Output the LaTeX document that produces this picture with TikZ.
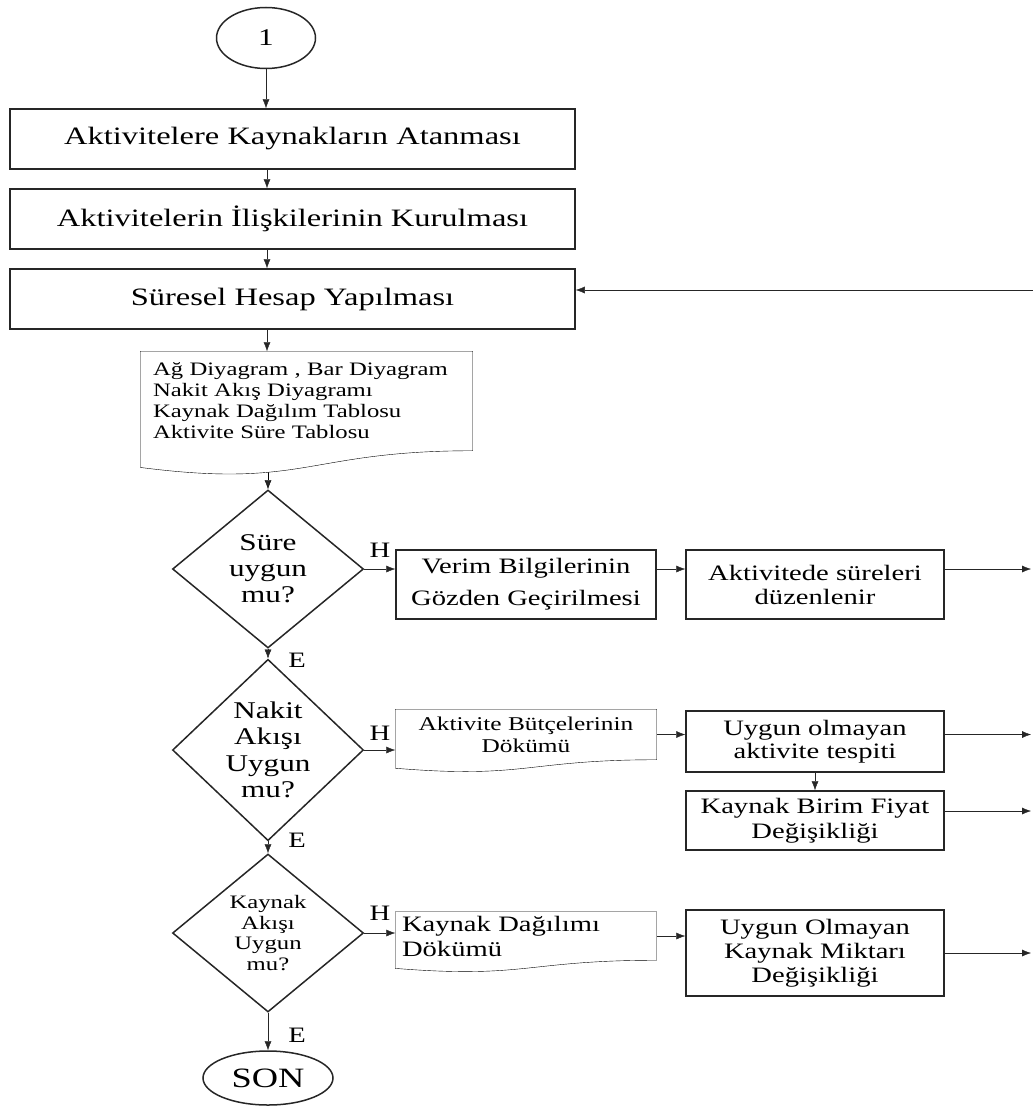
\documentclass[tikz,border=0pt]{standalone}
\usepackage{fontspec}
\setmainfont{Liberation Serif}[FakeStretch=1.3]
\usetikzlibrary{shapes.geometric,arrows.meta,calc}

\pgfdeclarelayer{background}
\pgfsetlayers{background,main}

\newcommand{\fsz}[2]{\fontsize{#1}{#2}\selectfont}

% document symbol: rectangle with a wavy lower edge below the node box
\newcommand{\docoutline}[1]{%
  \draw[fill=white] (#1.north west) -- (#1.north east) -- (#1.south east)
    .. controls (#1.south) and ($(#1.south)!-0.384!(#1.north)$)
    .. ($(#1.south west)!-0.1675!(#1.north west)$) -- cycle;}

\tikzset{
  flow/.style={-{Latex[length=9pt,width=7pt]}},
  procbox/.style={draw, rectangle, inner sep=0pt, align=center},
  docnode/.style={rectangle, inner sep=0pt},
  decision/.style={draw, diamond, inner sep=0pt, align=center,
    minimum width=191pt, minimum height=158pt},
  terminal/.style={draw, ellipse, inner sep=0pt},
  lbl/.style={inner sep=0pt, font=\fsz{22}{24}},
}

\begin{document}
\begin{tikzpicture}[x=1pt, y=-1pt, line width=1.5pt, draw=black!85]
\useasboundingbox (0,0) rectangle (1033,1108);

\coordinate (axis) at (267,0);
\coordinate (rail) at (1031,0);
\coordinate (ret) at (1033,290);

% main column
\node[terminal, minimum width=99pt, minimum height=61pt, font=\fsz{24}{26}]
  (c1) at (266,38) {1};
\node[procbox, minimum width=565pt, minimum height=60pt, font=\fsz{25}{28}]
  (b1) at (292.5,139) {Aktivitelere Kaynakların Atanması};
\node[procbox, minimum width=565pt, minimum height=60pt, font=\fsz{25}{28}]
  (b2) at (292.5,219) {Aktivitelerin İlişkilerinin Kurulması};
\node[procbox, minimum width=565pt, minimum height=60pt, font=\fsz{25}{28}]
  (b3) at (292.5,299) {Süresel Hesap Yapılması};

\node[docnode, minimum width=331pt, minimum height=98pt, text width=307pt,
  inner xsep=12pt, align=left, font=\fsz{19}{21}]
  (doc1) at (306.5,401) {Ağ Diyagram , Bar Diyagram\\Nakit Akış Diyagramı\\Kaynak Dağılım Tablosu\\Aktivite Süre Tablosu};

\node[decision, font=\fsz{24}{26}] (d1) at (268,569) {Süre\\uygun\\mu?};
\node[decision, font=\fsz{24}{26.5}] (d2) at (268,750) {Nakit\\Akışı\\Uygun\\mu?};
\node[decision, font=\fsz{19}{20.5}] (d3) at (268,933) {Kaynak\\Akışı\\Uygun\\mu?};
\node[terminal, minimum width=130pt, minimum height=54pt, font=\fsz{28}{30}]
  (son) at (268,1078) {SON};

% branch boxes
\node[procbox, minimum width=260pt, minimum height=69pt, font=\fsz{22}{32}]
  (verim) at (526,584.5) {Verim Bilgilerinin\\Gözden Geçirilmesi};
\node[procbox, minimum width=258pt, minimum height=69pt, font=\fsz{22}{24}]
  (akt) at (815,584.5) {Aktivitede süreleri\\düzenlenir};

\node[docnode, minimum width=260pt, minimum height=49pt, align=center,
  font=\fsz{19.5}{22}] (doc2) at (526,734.5) {Aktivite Bütçelerinin\\Dökümü};
\node[procbox, minimum width=258pt, minimum height=61pt, font=\fsz{22}{23.5}]
  (uy1) at (815,741.5) {Uygun olmayan\\aktivite tespiti};
\node[procbox, minimum width=258pt, minimum height=59pt, font=\fsz{22}{25}]
  (kb) at (815,820.5) {Kaynak Birim Fiyat\\Değişikliği};

\node[docnode, minimum width=260pt, minimum height=47pt, text width=248pt,
  inner xsep=6pt, align=left, font=\fsz{22}{25}]
  (doc3) at (526,936) {Kaynak Dağılımı\\Dökümü};
\node[procbox, minimum width=258pt, minimum height=86pt, font=\fsz{22}{24}]
  (uk) at (815,953) {Uygun Olmayan\\Kaynak Miktarı\\Değişikliği};

% yes / no marks
\node[lbl] (h1) at (380,550) {H};
\node[lbl] (h2) at (380,733) {H};
\node[lbl] (h3) at (380,913) {H};
\node[lbl] (e1) at (297,660) {E};
\node[lbl] (e2) at (297,840) {E};
\node[lbl] (e3) at (297,1035) {E};

% document outlines, behind their texts
\begin{pgfonlayer}{background}
  \draw[flow] (d1.north |- doc1.center) -- (d1.north);
  \docoutline{doc1}
  \docoutline{doc2}
  \docoutline{doc3}
\end{pgfonlayer}

% vertical flow
\draw[flow] (c1.south) -- (c1.south |- b1.north);
\draw[flow] (axis |- b1.south) -- (axis |- b2.north);
\draw[flow] (axis |- b2.south) -- (axis |- b3.north);
\draw[flow] (axis |- b3.south) -- (axis |- doc1.north);
\draw[flow] (d1.south) -- (d2.north);
\draw[flow] (d2.south) -- (d3.north);
\draw[flow] (d3.south) -- (son.north);

% first decision branch
\draw[flow] (d1.east) -- (d1.east -| verim.west);
\draw[flow] (d1.east -| verim.east) -- (d1.east -| akt.west);
\draw[flow] (d1.east -| akt.east) -- (d1.east -| rail);

% second decision branch
\draw[flow] (d2.east) -- (d2.east -| doc2.west);
\draw[flow] (doc2.east) -- (doc2.east -| uy1.west);
\draw[flow] (doc2.east -| uy1.east) -- (doc2.east -| rail);
\draw[flow] (uy1.south) -- (kb.north);
\coordinate (kbout) at ([yshift=9.5pt]kb.east);
\draw[flow] (kbout) -- (kbout -| rail);

% third decision branch
\draw[flow] (d3.east) -- (d3.east -| doc3.west);
\draw[flow] (doc3.east) -- (doc3.east -| uk.west);
\draw[flow] (uk.east) -- (uk.east -| rail);

% return to the time calculation
\draw[flow] (ret) -- (ret -| b3.east);
\end{tikzpicture}
\end{document}
